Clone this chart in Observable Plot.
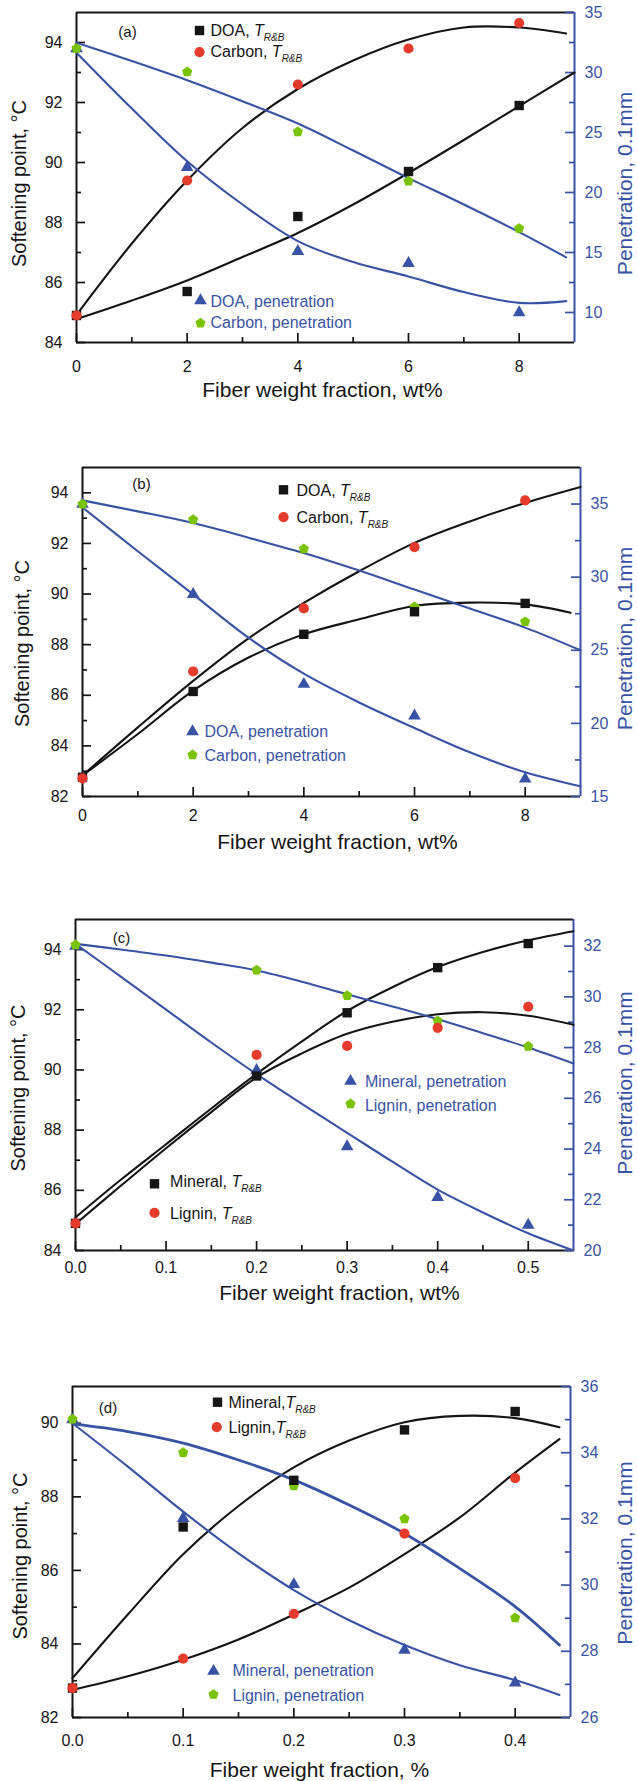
<!DOCTYPE html>
<html>
<head>
<meta charset="utf-8">
<script src="https://cdn.jsdelivr.net/npm/d3@7"></script>
<script src="https://cdn.jsdelivr.net/npm/@observablehq/plot@0.6"></script>
<style>
  html, body { margin: 0; padding: 0; background: #fff; }
  #root { position: relative; width: 637px; height: 1781px; overflow: hidden; background: #fff; }
  #root svg { position: absolute; left: 0; }
</style>
</head>
<body>
<div id="root"></div>
<script>
// ---------------- Panel (a) data ----------------
const xA = [0, 2, 4, 6, 8];
const doaTA = [84.9, 85.7, 88.2, 89.7, 91.9];
const carbonTA = [84.9, 89.4, 92.6, 93.8, 94.65];
const doaPenA = [32.0, 22.1, 15.1, 14.1, 10.0];
const carbonPenA = [32.0, 30.05, 25.05, 20.95, 17.0];
const fitXA = [0, 1, 2, 3, 4, 5, 6, 7, 8, 8.85];
const fitXA9 = [0, 1, 2, 3, 4, 5, 6, 7, 8, 9];
const fitDoaTA = [84.78, 85.4, 86.07, 86.85, 87.65, 88.6, 89.65, 90.75, 91.88, 93.0];
const fitCarbonTA = [84.92, 87.3, 89.4, 91.15, 92.45, 93.4, 94.1, 94.5, 94.5, 94.3];
const fitDoaPenA = [31.65, 27.0, 22.6, 19.0, 15.95, 14.2, 13.0, 11.7, 10.8, 10.95];
const fitCarbonPenA = [32.47, 30.95, 29.35, 27.6, 25.75, 23.5, 21.2, 19.0, 16.7, 14.6];
const xTicksA = [0, 2, 4, 6, 8];
const xMinorA = [1, 3, 5, 7];
const leftTicksA = [84, 86, 88, 90, 92, 94];
const leftMinorA = [85, 87, 89, 91, 93];
const rightTicksA = [10, 15, 20, 25, 30, 35];
const rightMinorA = [12.5, 17.5, 22.5, 27.5, 32.5];

// ---------------- Panel (b) data ----------------
const xB = [0, 2, 4, 6, 8];
const doaTB = [82.76, 86.15, 88.41, 89.3, 89.63];
const carbonTB = [82.72, 86.94, 89.43, 91.85, 93.7];
const doaPenB = [35.0, 28.82, 22.68, 20.52, 16.2];
const carbonPenB = [35.0, 33.93, 31.93, 27.97, 26.95];
const fitXB = [0, 1, 2, 3, 4, 5, 6, 7, 8, 9];
const fitXB2 = [0, 1, 2, 3, 4, 5, 6, 7, 8, 8.82];
const fitCarbonTB = [82.83, 84.73, 86.57, 88.25, 89.65, 90.9, 92.02, 92.87, 93.6, 94.23];
const fitDoaTB = [82.83, 84.47, 86.18, 87.49, 88.41, 89.0, 89.53, 89.66, 89.59, 89.26];
const fitDoaPenB = [34.77, 31.77, 28.82, 25.86, 23.4, 21.43, 19.68, 18.02, 16.66, 15.7];
const fitCarbonPenB = [35.25, 34.5, 33.7, 32.7, 31.65, 30.45, 29.15, 27.85, 26.55, 25.0];
const xTicksB = [0, 2, 4, 6, 8];
const xMinorB = [1, 3, 5, 7];
const leftTicksB = [82, 84, 86, 88, 90, 92, 94];
const leftMinorB = [83, 85, 87, 89, 91, 93];
const rightTicksB = [15, 20, 25, 30, 35];
const rightMinorB = [17.5, 22.5, 27.5, 32.5];

// ---------------- Panel (c) data ----------------
const xC = [0, 0.2, 0.3, 0.4, 0.5];
const mineralTC = [84.9, 89.8, 91.9, 93.4, 94.2];
const ligninTC = [84.9, 90.5, 90.8, 91.4, 92.1];
const mineralPenC = [32.0, 27.1, 24.1, 22.1, 21.0];
const ligninPenC = [32.05, 31.05, 30.05, 29.05, 28.05];
const fitXC = [0, 0.05, 0.1, 0.15, 0.2, 0.25, 0.3, 0.35, 0.4, 0.45, 0.5, 0.55];
const fitMineralTC = [85.1, 86.35, 87.53, 88.72, 89.87, 90.95, 91.96, 92.75, 93.42, 93.92, 94.31, 94.61];
const fitLigninTC = [84.88, 86.15, 87.4, 88.6, 89.75, 90.55, 91.2, 91.6, 91.85, 91.92, 91.8, 91.5];
const fitMineralPenC = [32.09, 30.8, 29.5, 28.2, 26.95, 25.78, 24.64, 23.5, 22.4, 21.5, 20.68, 20.0];
const fitLigninPenC = [32.09, 31.87, 31.63, 31.35, 31.04, 30.6, 30.1, 29.62, 29.12, 28.57, 28.0, 27.37];
const xTicksC = [0, 0.1, 0.2, 0.3, 0.4, 0.5];
const xMinorC = [0.05, 0.15, 0.25, 0.35, 0.45];
const leftTicksC = [84, 86, 88, 90, 92, 94];
const leftMinorC = [85, 87, 89, 91, 93];
const rightTicksC = [20, 22, 24, 26, 28, 30, 32];
const rightMinorC = [21, 23, 25, 27, 29, 31];

// ---------------- Panel (d) data ----------------
const xD = [0, 0.1, 0.2, 0.3, 0.4];
const mineralTD = [82.8, 87.18, 88.45, 89.82, 90.32];
const ligninTD = [82.8, 83.6, 84.82, 87.0, 88.51];
const mineralPenD = [35.0, 32.02, 30.02, 28.04, 27.05];
const ligninPenD = [35.01, 34.0, 33.0, 32.0, 29.01];
const fitXD = [0, 0.05, 0.1, 0.15, 0.2, 0.25, 0.3, 0.35, 0.4, 0.44];
const fitMineralTD = [83.07, 84.8, 86.44, 87.75, 88.8, 89.53, 90.03, 90.2, 90.14, 89.89];
const fitLigninTD = [82.75, 83.12, 83.57, 84.12, 84.8, 85.53, 86.44, 87.44, 88.66, 89.57];
const fitMineralPenD = [34.89, 33.58, 32.22, 30.96, 29.85, 28.94, 28.19, 27.58, 27.13, 26.68];
const fitLigninPenD = [34.87, 34.64, 34.29, 33.78, 33.18, 32.42, 31.56, 30.5, 29.35, 28.19];
const xTicksD = [0, 0.1, 0.2, 0.3, 0.4];
const xMinorD = [0.05, 0.15, 0.25, 0.35];
const leftTicksD = [82, 84, 86, 88, 90];
const leftMinorD = [83, 85, 87, 89];
const rightTicksD = [26, 28, 30, 32, 34, 36];
const rightMinorD = [27, 29, 31, 33, 35];

// ---------------- Styles ----------------
const FONT = "'Liberation Sans', Arial, Helvetica, sans-serif";
const BLACK = "#151515";
const BLUE = "#3953a4";
const RED = "#e53b2c";
const GREEN = "#7ac300";
const W = 637;

const ctx = document.createElement("canvas").getContext("2d");
function textWidth(s, size, style = "") {
  ctx.font = `${style} ${size}px ${FONT}`;
  return ctx.measureText(s).width;
}

const pentagon = {
  draw(context, size) {
    const R = Math.sqrt(size / Math.PI) * 1.05;
    for (let i = 0; i < 5; ++i) {
      const a = -Math.PI / 2 + (i * 2 * Math.PI) / 5;
      const px = R * Math.cos(a), py = R * Math.sin(a);
      if (i === 0) context.moveTo(px, py); else context.lineTo(px, py);
    }
    context.closePath();
  }
};

const SYM = {
  square: {symbol: "square", r: 5.3, fill: BLACK},
  circle: {symbol: "circle", r: 5.1, fill: RED},
  triangle: {symbol: "triangle", r: 4.7, fill: BLUE},
  pentagon: {symbol: pentagon, r: 5.1, fill: GREEN}
};

const TXT = {frameAnchor: "top-left", textAnchor: "start", lineAnchor: "middle"};

function legendMarks(entries) {
  const out = [];
  for (const e of entries) {
    out.push(Plot.dot([0], {frameAnchor: "top-left", dx: e.dx, dy: e.dy, ...SYM[e.sym]}));
    out.push(Plot.text([e.label], {...TXT, dx: e.tx, dy: e.ty, fontSize: 16, fill: e.color}));
    if (e.sub) {
      const w = textWidth(e.label, 16);
      const wT = textWidth("T", 16, "italic");
      out.push(Plot.text(["T"], {...TXT, dx: e.tx + w, dy: e.ty, fontSize: 16, fontStyle: "italic", fill: e.color}));
      out.push(Plot.text(["R&B"], {...TXT, dx: e.tx + w + wT, dy: e.ty + 6.5, fontSize: 10, fontStyle: "italic", fill: e.color}));
    }
  }
  return out;
}

function drawPanel(p) {
  const fw = W - p.ml - p.mr;
  const fh = p.height - p.mt - p.mb;
  const toLeft = d3.scaleLinear(p.rightDomain, p.leftDomain);
  const pts = (xs, ys, right) => xs.map((x, i) => ({x, y: right ? toLeft(ys[i]) : ys[i]}));
  const marks = [];
  // frame lines
  marks.push(Plot.ruleY(p.leftDomain, {stroke: BLACK, strokeWidth: 2}));
  marks.push(Plot.ruleX([p.xDomain[0]], {stroke: BLACK, strokeWidth: 2}));
  marks.push(Plot.ruleX([p.xDomain[1]], {stroke: BLUE, strokeWidth: 2}));
  // inward ticks
  marks.push(Plot.tickX(p.xTicks, {x: d => d, insetTop: fh - 9, stroke: BLACK, strokeWidth: 1.7}));
  marks.push(Plot.tickX(p.xMinor, {x: d => d, insetTop: fh - 5, stroke: BLACK, strokeWidth: 1.7}));
  marks.push(Plot.tickY(p.leftTicks, {y: d => d, insetRight: fw - 9, stroke: BLACK, strokeWidth: 1.7}));
  marks.push(Plot.tickY(p.leftMinor, {y: d => d, insetRight: fw - 5, stroke: BLACK, strokeWidth: 1.7}));
  marks.push(Plot.tickY(p.rightTicks, {y: d => toLeft(d), insetLeft: fw - 9, stroke: BLUE, strokeWidth: 1.7}));
  marks.push(Plot.tickY(p.rightMinor, {y: d => toLeft(d), insetLeft: fw - 5, stroke: BLUE, strokeWidth: 1.7}));
  // tick labels
  marks.push(Plot.axisX(p.xTicks, {tickSize: 0, tickPadding: p.xPad, tickFormat: p.xFormat, fontSize: 16, fill: BLACK, label: null}));
  marks.push(Plot.axisY(p.leftTicks, {anchor: "left", tickSize: 0, tickPadding: 14, fontSize: 16, fill: BLACK, label: null, tickFormat: d3.format("d")}));
  marks.push(Plot.axisY(p.rightTicks.map(d => toLeft(d)), {anchor: "right", tickSize: 0, tickPadding: 10, fontSize: 16, fill: BLUE, stroke: BLUE, label: null,
    tickFormat: v => d3.format("d")(Math.round(toLeft.invert(v)))}));
  // fitted curves
  for (const f of p.fits) {
    marks.push(Plot.line(pts(f.x, f.y, f.right), {x: "x", y: "y", curve: "catmull-rom", stroke: f.right ? BLUE : BLACK, strokeWidth: f.w || 2.1}));
  }
  // data points
  for (const s of p.series) {
    marks.push(Plot.dot(pts(s.x, s.y, s.right), {x: "x", y: "y", ...SYM[s.sym]}));
  }
  // legend & tag
  marks.push(...legendMarks(p.legend));
  marks.push(Plot.text([p.tag], {frameAnchor: "top-left", textAnchor: "middle", lineAnchor: "middle", dx: p.tagPos[0], dy: p.tagPos[1], fontSize: 15, fill: BLACK}));
  // titles
  marks.push(Plot.text([p.yTitle], {frameAnchor: "left", textAnchor: "middle", lineAnchor: "middle", rotate: -90,
    dx: p.yTitlePos[0] - p.ml, dy: p.yTitlePos[1], fontSize: 20, fill: BLACK}));
  marks.push(Plot.text([p.rTitle], {frameAnchor: "right", textAnchor: "middle", lineAnchor: "middle", rotate: -90,
    dx: p.rTitlePos[0] - (W - p.mr), dy: p.rTitlePos[1], fontSize: 21, fill: BLUE}));
  marks.push(Plot.text([p.xTitle], {frameAnchor: "bottom", textAnchor: "middle", lineAnchor: "middle",
    dx: p.xTitlePos[0], dy: p.xTitlePos[1], fontSize: 21, fill: BLACK}));

  const svg = Plot.plot({
    width: W, height: p.height,
    marginTop: p.mt, marginBottom: p.mb, marginLeft: p.ml, marginRight: p.mr,
    x: {domain: p.xDomain},
    y: {domain: p.leftDomain},
    style: {fontFamily: FONT, background: "white", overflow: "hidden"},
    marks
  });
  svg.style.top = p.top + "px";
  document.getElementById("root").appendChild(svg);
}

const Y_TITLE = "Softening point, °C";
const R_TITLE = "Penetration, 0.1mm";

// Panel (a)
drawPanel({
  top: 0, height: 430, mt: 12, mb: 88, ml: 76, mr: 63, xPad: 18,
  xDomain: [0, 9], leftDomain: [84, 95], rightDomain: [7.5, 35],
  xTicks: xTicksA, xMinor: xMinorA, leftTicks: leftTicksA, leftMinor: leftMinorA,
  rightTicks: rightTicksA, rightMinor: rightMinorA, xFormat: d3.format("d"),
  fits: [
    {x: fitXA9, y: fitDoaTA}, {x: fitXA, y: fitCarbonTA},
    {x: fitXA, y: fitDoaPenA, right: true}, {x: fitXA, y: fitCarbonPenA, right: true}
  ],
  series: [
    {x: xA, y: doaPenA, right: true, sym: "triangle"},
    {x: xA, y: carbonPenA, right: true, sym: "pentagon"},
    {x: xA, y: doaTA, sym: "square"},
    {x: xA, y: carbonTA, sym: "circle"}
  ],
  legend: [
    {sym: "square", dx: 123, dy: 18, tx: 134, ty: 18.5, label: "DOA, ", sub: true, color: BLACK},
    {sym: "circle", dx: 123, dy: 39.7, tx: 134, ty: 39.7, label: "Carbon, ", sub: true, color: BLACK},
    {sym: "triangle", dx: 124, dy: 288, tx: 134, ty: 289, label: "DOA, penetration", color: BLUE},
    {sym: "pentagon", dx: 124, dy: 310.7, tx: 134, ty: 310.7, label: "Carbon, penetration", color: BLUE}
  ],
  tag: "(a)", tagPos: [51, 20],
  yTitle: Y_TITLE, yTitlePos: [19.5, 6],
  rTitle: R_TITLE, rTitlePos: [624.5, 6],
  xTitle: "Fiber weight fraction, wt%", xTitlePos: [-3, 48]
});

// Panel (b)
drawPanel({
  top: 430, height: 450, mt: 37, mb: 84, ml: 82, mr: 57, xPad: 13,
  xDomain: [0, 9], leftDomain: [82, 95], rightDomain: [15, 37.5],
  xTicks: xTicksB, xMinor: xMinorB, leftTicks: leftTicksB, leftMinor: leftMinorB,
  rightTicks: rightTicksB, rightMinor: rightMinorB, xFormat: d3.format("d"),
  fits: [
    {x: fitXB, y: fitCarbonTB}, {x: fitXB2, y: fitDoaTB},
    {x: fitXB, y: fitDoaPenB, right: true}, {x: fitXB, y: fitCarbonPenB, right: true}
  ],
  series: [
    {x: xB, y: doaPenB, right: true, sym: "triangle"},
    {x: xB, y: carbonPenB, right: true, sym: "pentagon"},
    {x: xB, y: doaTB, sym: "square"},
    {x: xB, y: carbonTB, sym: "circle"}
  ],
  legend: [
    {sym: "square", dx: 201, dy: 22.3, tx: 214, ty: 23.7, label: "DOA, ", sub: true, color: BLACK},
    {sym: "circle", dx: 201, dy: 49.7, tx: 214, ty: 50.7, label: "Carbon, ", sub: true, color: BLACK},
    {sym: "triangle", dx: 110, dy: 264, tx: 122, ty: 264, label: "DOA, penetration", color: BLUE},
    {sym: "pentagon", dx: 110, dy: 287.3, tx: 122, ty: 288.7, label: "Carbon, penetration", color: BLUE}
  ],
  tag: "(b)", tagPos: [59, 17],
  yTitle: Y_TITLE, yTitlePos: [22.5, 11.5],
  rTitle: R_TITLE, rTitlePos: [625, 6.5],
  xTitle: "Fiber weight fraction, wt%", xTitlePos: [6, 46]
});

// Panel (c)
drawPanel({
  top: 880, height: 450, mt: 39, mb: 80, ml: 75, mr: 64, xPad: 11,
  xDomain: [0, 0.55], leftDomain: [84, 95], rightDomain: [20, 33.05],
  xTicks: xTicksC, xMinor: xMinorC, leftTicks: leftTicksC, leftMinor: leftMinorC,
  rightTicks: rightTicksC, rightMinor: rightMinorC, xFormat: d3.format(".1f"),
  fits: [
    {x: fitXC, y: fitMineralTC}, {x: fitXC, y: fitLigninTC},
    {x: fitXC, y: fitMineralPenC, right: true}, {x: fitXC, y: fitLigninPenC, right: true}
  ],
  series: [
    {x: xC, y: mineralPenC, right: true, sym: "triangle"},
    {x: xC, y: ligninPenC, right: true, sym: "pentagon"},
    {x: xC, y: mineralTC, sym: "square"},
    {x: xC, y: ligninTC, sym: "circle"}
  ],
  legend: [
    {sym: "triangle", dx: 275, dy: 161.7, tx: 289.4, ty: 162.7, label: "Mineral, penetration", color: BLUE},
    {sym: "pentagon", dx: 275, dy: 184.3, tx: 289.4, ty: 186.7, label: "Lignin, penetration", color: BLUE},
    {sym: "square", dx: 79, dy: 264.3, tx: 94.6, ty: 262.7, label: "Mineral, ", sub: true, color: BLACK},
    {sym: "circle", dx: 79, dy: 293.3, tx: 94.6, ty: 294.3, label: "Lignin, ", sub: true, color: BLACK}
  ],
  tag: "(c)", tagPos: [46, 18.7],
  yTitle: Y_TITLE, yTitlePos: [18.5, 3],
  rTitle: R_TITLE, rTitlePos: [625, -2],
  xTitle: "Fiber weight fraction, wt%", xTitlePos: [15, 43]
});

// Panel (d)
drawPanel({
  top: 1330, height: 451, mt: 56, mb: 64, ml: 72, mr: 67, xPad: 17.5,
  xDomain: [0, 0.45], leftDomain: [82, 91], rightDomain: [26, 36],
  xTicks: xTicksD, xMinor: xMinorD, leftTicks: leftTicksD, leftMinor: leftMinorD,
  rightTicks: rightTicksD, rightMinor: rightMinorD, xFormat: d3.format(".1f"),
  fits: [
    {x: fitXD, y: fitMineralTD}, {x: fitXD, y: fitLigninTD},
    {x: fitXD, y: fitMineralPenD, right: true}, {x: fitXD, y: fitLigninPenD, right: true, w: 2.8}
  ],
  series: [
    {x: xD, y: mineralPenD, right: true, sym: "triangle"},
    {x: xD, y: ligninPenD, right: true, sym: "pentagon"},
    {x: xD, y: mineralTD, sym: "square"},
    {x: xD, y: ligninTD, sym: "circle"}
  ],
  legend: [
    {sym: "square", dx: 145, dy: 15.7, tx: 156, ty: 16.7, label: "Mineral,", sub: true, color: BLACK},
    {sym: "circle", dx: 144.3, dy: 40.7, tx: 156, ty: 41.7, label: "Lignin,", sub: true, color: BLACK},
    {sym: "triangle", dx: 141, dy: 284.7, tx: 160, ty: 284.7, label: "Mineral, penetration", color: BLUE},
    {sym: "pentagon", dx: 141, dy: 308, tx: 160, ty: 309, label: "Lignin, penetration", color: BLUE}
  ],
  tag: "(d)", tagPos: [35.5, 21.3],
  yTitle: Y_TITLE, yTitlePos: [20, 4],
  rTitle: R_TITLE, rTitlePos: [625, 1],
  xTitle: "Fiber weight fraction, %", xTitlePos: [-2, 53]
});
</script>
</body>
</html>
